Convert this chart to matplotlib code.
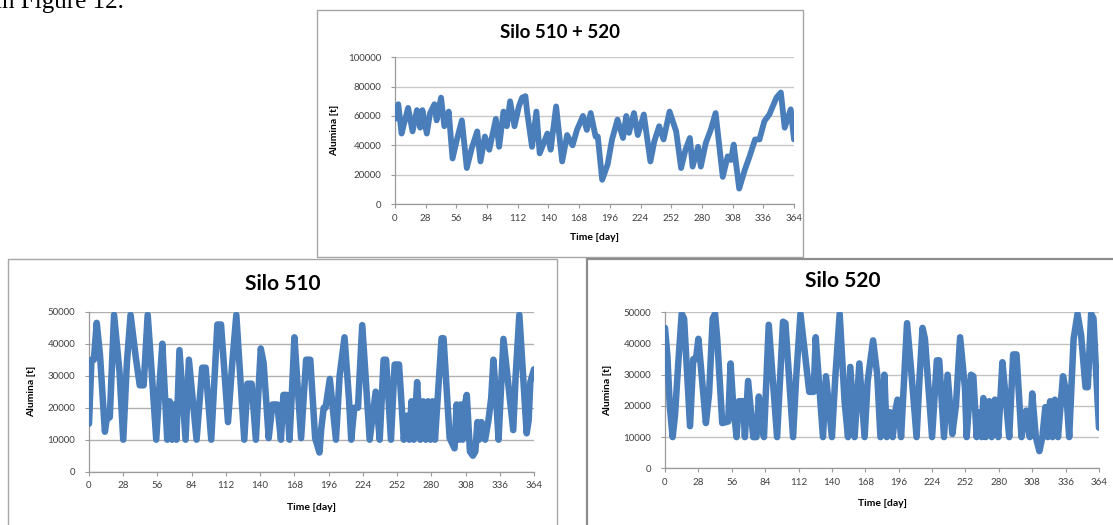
import matplotlib
matplotlib.use("Agg")
import matplotlib.pyplot as plt
from matplotlib.patches import Rectangle

W, H = 1113, 525

# Silo 510 + 520 (combined stock)
days_total = [0, 3, 6, 9, 12, 16, 20, 23, 25, 29, 32, 36, 38, 42, 45, 49, 52.5, 56.5, 61, 65.5,
              70, 75, 78, 82, 86, 92, 95, 99, 102, 105, 109, 113, 116, 119, 120.5, 125, 129, 132,
              139, 142, 147, 152.5, 157, 162, 166, 171.5, 175, 178.5, 183, 185, 189, 194, 198,
              203, 208, 211, 213.5, 218, 221.5, 227, 233, 236.5, 241, 245, 250.5, 256.5, 261,
              265, 269, 271.5, 276.5, 279, 283.5, 288, 292.5, 299, 303.5, 306.5, 309, 314, 319,
              323.5, 328.5, 332.5, 337, 341.5, 348, 352, 355.5, 361, 364]
alumina_total = [58000, 68000, 48000, 57000, 65500, 49500, 64000, 52000, 64000, 48000, 62000,
                 68000, 57000, 72500, 53000, 63000, 31000, 44000, 57000, 24500, 38000, 49500,
                 29000, 46000, 37000, 58000, 39000, 63000, 53000, 70000, 53000, 66500, 72500,
                 73500, 63000, 39000, 63000, 34500, 48000, 37000, 66500, 29000, 47000, 40000,
                 50500, 60000, 50500, 62000, 46000, 46000, 16500, 27000, 44000, 57500, 45000,
                 60000, 48500, 62000, 47000, 61000, 29000, 42500, 53000, 44000, 63000, 49500,
                 24500, 37000, 45000, 25500, 39000, 25500, 41500, 50500, 62000, 18500, 32500,
                 30000, 40500, 10500, 23000, 32500, 44000, 44000, 56500, 61000, 72500, 76000,
                 52000, 64500, 44000]

# Silo 510
days_510 = [0, 2, 4, 6.3, 9, 13, 14.5, 17, 20.5, 25, 28, 31, 34, 38, 41.5, 44.7, 48, 51.5, 55,
            58, 60, 64, 66, 68, 70, 71.5, 74, 79, 81.7, 88, 92.6, 95.4, 100, 105, 108, 113.7,
            117, 120.5, 127, 129.6, 133, 136.5, 140.5, 142.8, 147, 150, 154, 157, 159, 161.7,
            164, 166, 168, 173.5, 177.6, 181, 185, 188.5, 190, 192, 193.5, 197, 202, 205, 209,
            212.6, 214.5, 217, 220, 223.5, 229.6, 234.5, 237.8, 241, 243, 247, 250, 253.6,
            257.5, 260, 262, 263.8, 265.7, 268.4, 271, 273.3, 275.5, 277.4, 279.4, 281, 283,
            288.4, 290, 295, 299, 300.7, 302.6, 304, 305.6, 307.5, 309, 311.6, 314, 316, 317.7,
            319, 321, 324, 326.7, 329, 330.8, 333, 335, 339, 347, 349, 352, 358, 359.6, 361, 364]
alumina_510 = [15000, 35000, 35000, 46500, 36500, 12500, 16500, 17000, 49000, 31000, 10000,
               34000, 49000, 36500, 27000, 27000, 49000, 30000, 10000, 29000, 40000, 10000,
               22000, 10000, 21000, 10000, 38000, 10000, 35000, 10000, 32500, 32500, 10000,
               46000, 46000, 15500, 33000, 49000, 10000, 27500, 27500, 10000, 38500, 34000,
               10500, 21000, 21000, 10000, 24000, 24000, 10000, 25000, 42000, 10500, 35000,
               35000, 10500, 6000, 13500, 20000, 20000, 29000, 10000, 30000, 42000, 23000,
               10000, 20000, 20000, 45800, 10000, 25000, 10000, 35000, 35000, 10000, 33500,
               33500, 10000, 17500, 10000, 22000, 10000, 28000, 10000, 22000, 10000, 22000,
               10000, 22000, 10000, 41700, 41700, 10500, 7300, 21000, 10000, 21000, 10000,
               21000, 24000, 6300, 5000, 6300, 15500, 10000, 15500, 10000, 16000, 23000, 35000,
               23000, 10000, 41500, 13000, 30000, 49000, 12000, 16000, 28000, 32000]

# Silo 520
days_520 = [0, 2, 4, 6.4, 8.4, 11, 14, 16, 21, 23.7, 26, 28, 30.7, 34.3, 37, 40, 42, 43.8, 48,
            53, 55, 57, 60, 62, 65.5, 67, 69.7, 74, 76.7, 78.7, 80.4, 83, 87, 90.7, 94, 99, 101,
            107.4, 110, 113.6, 121, 124.7, 126.4, 132.5, 135, 140, 142.8, 146.5, 150.6, 153.5,
            155.4, 159, 163, 167.4, 170, 174.5, 178, 180.7, 184, 186, 188.5, 191, 193, 195, 198,
            203, 207, 211, 213.5, 216, 218, 224, 228, 230, 234, 237, 241, 244, 247.5, 251.6,
            253, 256.7, 258.6, 261.4, 263.6, 265.6, 267, 269, 272, 274, 276.7, 279.5, 283, 286,
            288.7, 292, 294.8, 299, 303, 306, 308, 311, 314, 316.5, 319, 321, 323, 325, 327,
            329.6, 333.8, 336.5, 339, 342.7, 346, 349, 352.7, 354.6, 357.4, 359.4, 361, 364]
alumina_520 = [45000, 36000, 20000, 10000, 17000, 33000, 49500, 48000, 13500, 35000, 35000,
               41500, 30000, 14500, 24000, 48000, 49500, 41500, 14500, 15000, 33600, 21500,
               10000, 21500, 21500, 10000, 28000, 10000, 10000, 23000, 15000, 10000, 46000,
               27000, 10000, 47000, 46500, 10000, 29000, 49500, 24500, 24500, 42000, 10000,
               29500, 10000, 29000, 49500, 21500, 10000, 32500, 10000, 33600, 10000, 28000,
               41000, 30000, 10000, 30000, 10000, 18000, 10000, 18000, 22000, 10000, 46500,
               29000, 10000, 29000, 45000, 41500, 10000, 34600, 34600, 10000, 30000, 11000,
               20000, 42000, 25600, 10000, 30000, 29500, 10000, 18000, 10000, 22500, 10000,
               21500, 10000, 22000, 10000, 34000, 21500, 10000, 36500, 36500, 10000, 18500,
               10000, 24000, 10000, 5500, 10000, 19600, 10000, 21500, 10000, 22000, 10000,
               29500, 24500, 10000, 41500, 49500, 42600, 26000, 26000, 49500, 48000, 35000,
               13000]

x_ticks = list(range(0, 365, 28))
LINE = "#4a7ebb"
FONT = ["Lato", "DejaVu Sans"]
plt.rcParams["font.family"] = FONT

fig = plt.figure(figsize=(W / 100, H / 100), dpi=100)


def px_box(x0, y0, x1, y1):
    """Pixel box (top-left origin) -> figure fraction [left, bottom, width, height]."""
    return [x0 / W, 1 - y1 / H, (x1 - x0) / W, (y1 - y0) / H]


def frame(x0, y0, x1, y1, color="#a6a6a6", lw=1.0):
    l, b, w, h = px_box(x0, y0, x1, y1)
    fig.patches.append(Rectangle((l, b), w, h, transform=fig.transFigure,
                                 fill=False, edgecolor=color, linewidth=lw))


def silo_panel(box, days, values, ymax, ystep, title, title_xy, title_size,
               ylab_x, xlab_y, grid_color, lw):
    ax = fig.add_axes(px_box(*box))
    ax.plot(days, values, color=LINE, linewidth=lw, solid_joinstyle="round",
            solid_capstyle="round", zorder=3)
    ax.set_xlim(0, 364)
    ax.set_ylim(0, ymax)
    ax.set_xticks(x_ticks)
    ax.set_yticks(range(0, ymax + 1, ystep))
    ax.yaxis.grid(True, color=grid_color, linewidth=1.0)
    ax.set_axisbelow(True)
    for s in ("top", "right"):
        ax.spines[s].set_visible(False)
    for s in ("left", "bottom"):
        ax.spines[s].set_color("#9a9a9a")
        ax.spines[s].set_linewidth(0.9)
    ax.tick_params(axis="x", length=3, width=0.8, color="#9a9a9a", labelsize=7,
                   labelcolor="#404040", pad=4)
    ax.tick_params(axis="y", length=3, width=0.8, color="#9a9a9a", labelsize=7,
                   labelcolor="#404040", pad=7)
    ax.set_ylabel("Alumina [t]", fontsize=7.5, fontweight="bold")
    ax.yaxis.set_label_coords(ylab_x, 0.5)
    ax.set_xlabel("Time [day]", fontsize=7.5, fontweight="bold")
    ax.xaxis.set_label_coords(0.5, xlab_y)
    ax.xaxis.label.set_va("center")
    fig.text(title_xy[0] / W, 1 - title_xy[1] / H, title, fontsize=title_size,
             fontweight="bold", ha="center", va="center")
    return ax


# fragment of the document text above the figure, cut by the page edge
fig.text(-5 / W, 1 - 8 / H, "in Figure 12.", family=["Liberation Serif", "DejaVu Serif"],
         fontsize=18, ha="left", va="baseline")

# chart frames
frame(317, 10, 803, 257)
frame(8, 259, 557, 540)
frame(587, 259, 1130, 540, color="#8c8c8c", lw=1.6)

silo_panel((395, 57.3, 794, 204), days_total, alumina_total, 100000, 20000,
           "Silo 510 + 520", (560, 33), 13.5, -0.14, -0.23, "#c9c9c9", 4.2)
silo_panel((89, 311.7, 534, 471.7), days_510, alumina_510, 50000, 10000,
           "Silo 510", (283, 284), 15, -0.12, -0.225, "#b0b0b0", 4.7)
silo_panel((665, 312.3, 1099, 468.3), days_520, alumina_520, 50000, 10000,
           "Silo 520", (843, 281), 15, -0.122, -0.228, "#c2c2c2", 4.7)

plt.savefig("out.png", dpi=100)
plt.close()
